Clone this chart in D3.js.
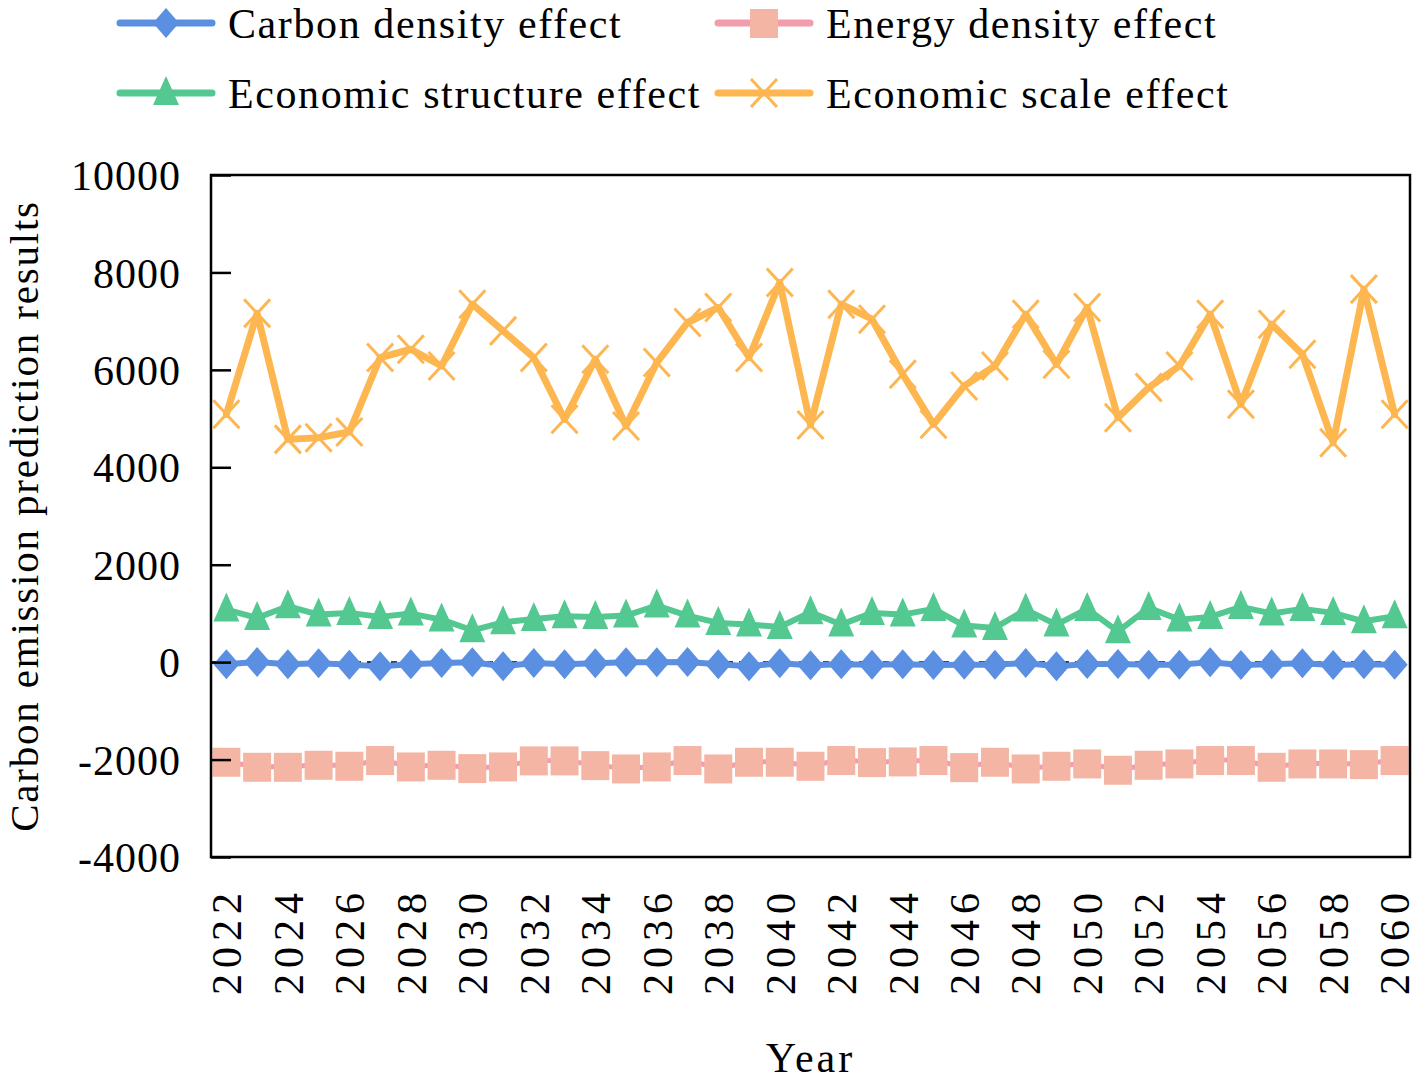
<!DOCTYPE html>
<html><head><meta charset="utf-8">
<script src="https://cdn.jsdelivr.net/npm/d3@7"></script>
<style>body{margin:0;background:#fff;} svg{display:block;} text{font-family:"Liberation Serif","Times New Roman",serif;fill:#000;}</style>
</head><body><svg id="c" width="1418" height="1081"></svg>
<script>
const years = d3.range(2022, 2061);
const yTicks = [-4000, -2000, 0, 2000, 4000, 6000, 8000, 10000];
const xTickYears = d3.range(2022, 2061, 2);
const seriesNames = ["Carbon density effect", "Energy density effect", "Economic structure effect", "Economic scale effect"];
const carbonDensity = [-45,4,-45,-24,-51,-86,-45,-17,-3,-86,-17,-45,-24,-3,-3,4,-45,-86,-24,-65,-45,-51,-45,-58,-51,-51,-17,-86,-38,-38,-51,-51,-3,-58,-45,-24,-58,-45,-51];
const energyDensity = [-2045,-2148,-2148,-2107,-2127,-2010,-2141,-2107,-2175,-2141,-2017,-2017,-2114,-2182,-2141,-2010,-2182,-2045,-2045,-2127,-2010,-2052,-2038,-2010,-2155,-2045,-2182,-2127,-2079,-2209,-2107,-2079,-2010,-2010,-2148,-2079,-2079,-2093,-2010];
const economicStructure = [1079,908,1147,976,1011,929,997,873,654,818,887,942,929,956,1161,956,805,771,723,1024,771,1011,976,1093,750,703,1079,771,1093,633,1114,873,929,1134,997,1093,1011,839,942];
const economicScale = [5087,7160,4573,4608,4724,6253,6423,6080,7348,6800,6253,4985,6218,4847,6150,6972,7280,6253,7794,4870,7348,7040,5910,4882,5670,6080,7143,6115,7280,5019,5636,6080,7143,5293,6937,6321,4505,7657,5087];

const svg = d3.select("#c");
const L = 211, R = 1410, T = 175, B = 857;
const x = d3.scalePoint().domain(years).range([L, R]).padding(0.5);
const y = d3.scaleLinear().domain([-4000, 10000]).range([B, T]);

const styles = [
  {name: seriesNames[0], data: carbonDensity, line: "#5b8fe1", fill: "#5b8fe1", sym: "diamond", lw: 6},
  {name: seriesNames[1], data: energyDensity, line: "#f29cac", fill: "#f5b5a5", sym: "square", lw: 5},
  {name: seriesNames[2], data: economicStructure, line: "#53c891", fill: "#53c891", sym: "triangle", lw: 6},
  {name: seriesNames[3], data: economicScale, line: "#fdb650", fill: "#fdb650", sym: "x", lw: 7}
];

function drawMarker(g, sym, cx, cy, s) {
  if (sym === "diamond") {
    g.append("path").attr("d", `M${cx},${cy-15}L${cx+13},${cy}L${cx},${cy+15}L${cx-13},${cy}Z`).attr("fill", s.fill);
  } else if (sym === "square") {
    g.append("rect").attr("x", cx-14).attr("y", cy-14).attr("width", 28).attr("height", 29).attr("fill", s.fill);
  } else if (sym === "triangle") {
    g.append("path").attr("d", `M${cx},${cy-17}L${cx+13},${cy+12}L${cx-13},${cy+12}Z`).attr("fill", s.fill);
  } else {
    g.append("path").attr("d", `M${cx-13},${cy-14}L${cx+13},${cy+14}M${cx-13},${cy+14}L${cx+13},${cy-14}`)
      .attr("stroke", s.fill).attr("stroke-width", 3).attr("fill", "none");
  }
}

// zero reference line
svg.append("line").attr("x1", L).attr("x2", R).attr("y1", y(0)).attr("y2", y(0)).attr("stroke", "#000").attr("stroke-width", 2).attr("stroke-dasharray", "6,6");

// series
const order = [1, 0, 2, 3];
order.forEach(i => {
  const s = styles[i];
  const g = svg.append("g");
  const line = d3.line().x((d, j) => x(years[j])).y(d => y(d));
  g.append("path").datum(s.data).attr("d", line).attr("fill", "none").attr("stroke", s.line)
    .attr("stroke-width", s.lw).attr("stroke-linejoin", "round").attr("stroke-linecap", "round");
  s.data.forEach((d, j) => drawMarker(g, s.sym, x(years[j]), y(d), s));
});

// frame
svg.append("rect").attr("x", L).attr("y", T).attr("width", R - L).attr("height", B - T)
  .attr("fill", "none").attr("stroke", "#000").attr("stroke-width", 2.5);

// y axis
const yAxis = d3.axisLeft(y).tickValues(yTicks).tickSize(-20).tickPadding(30).tickFormat(d => String(d));
const ya = svg.append("g").attr("transform", `translate(${L},0)`).call(yAxis);
ya.select(".domain").remove();
ya.selectAll(".tick line").attr("stroke", "#000").attr("stroke-width", 2.5);
ya.selectAll(".tick text").attr("font-size", 42).attr("font-family", "Liberation Serif")
  .attr("letter-spacing", 1).attr("dy", "0.35em");

// x axis
const xAxis = d3.axisBottom(x).tickValues(xTickYears).tickSize(0).tickPadding(0);
const xa = svg.append("g").attr("transform", `translate(0,${B})`).call(xAxis);
xa.select(".domain").remove();
xa.selectAll(".tick text").attr("font-size", 42).attr("font-family", "Liberation Serif").attr("letter-spacing", 6)
  .attr("transform", "rotate(-90)").attr("text-anchor", "end").attr("x", -30).attr("y", 0).attr("dy", "0.34em");

// axis titles
svg.append("text").attr("x", (L + R) / 2).attr("y", 1072).attr("text-anchor", "middle").attr("font-size", 42)
  .attr("letter-spacing", 3).text("Year");
svg.append("text").attr("transform", `translate(38,${(T + B) / 2}) rotate(-90)`).attr("text-anchor", "middle")
  .attr("font-size", 41).attr("letter-spacing", 1.8).text("Carbon emission prediction results");

// legend
const legPos = [[120, 23], [718, 23], [120, 93], [718, 93]];
styles.forEach((s, i) => {
  const [lx, ly] = legPos[i];
  const g = svg.append("g");
  g.append("line").attr("x1", lx).attr("x2", lx + 92).attr("y1", ly).attr("y2", ly).attr("stroke", s.line)
    .attr("stroke-width", 7).attr("stroke-linecap", "round");
  drawMarker(g, s.sym, lx + 46, ly, s);
  g.append("text").attr("x", lx + 108).attr("y", ly).attr("dy", "0.35em").attr("font-size", 42)
    .attr("letter-spacing", 1.6).text(s.name);
});
</script></body></html>
